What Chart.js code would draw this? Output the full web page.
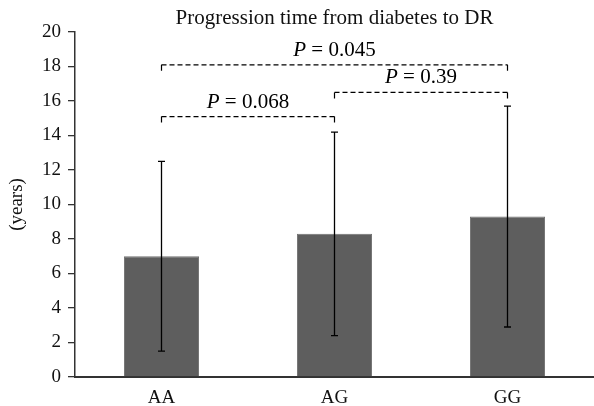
<!DOCTYPE html>
<html lang="en">
<head>
    <meta charset="UTF-8">
    <script src="https://cdn.jsdelivr.net/npm/chart.js"></script>
    <title>Progression time from diabetes to DR</title>
    <style>
        body { margin: 0; background: #fff; }
        #wrap { width: 594px; height: 406px; }
    </style>
</head>
<body>
<div id="wrap"><canvas id="dr"></canvas></div>

<script>
    const chartTitle = 'Progression time from diabetes to DR';
    const genotypes = ['AA', 'AG', 'GG'];
    const meanYears = [7.0, 8.3, 9.3];
    const errLow = [1.5, 2.4, 2.9];
    const errHigh = [12.5, 14.2, 15.7];

    // significance brackets: from index, to index, height, p value
    const bracketFrom = [0, 0, 1];
    const bracketTo = [1, 2, 2];
    const bracketY = [15.1, 18.1, 16.5];
    const bracketP = ['0.068', '0.045', '0.39'];

    const serif = '"Liberation Serif", "DejaVu Serif", serif';
    const fs = 19;
    const pfs = 21;

    const extras = {
        id: 'extras',
        afterDatasetsDraw(chart) {
            const c = chart.ctx;
            const x = chart.scales.x, y = chart.scales.y;
            const area = chart.chartArea;
            c.save();
            // title, centred over the plot area
            c.fillStyle = '#111';
            c.font = '21px ' + serif;
            c.textAlign = 'center';
            c.textBaseline = 'middle';
            c.fillText(chartTitle, (area.left + area.right) / 2, 18);

            c.strokeStyle = '#000';
            c.lineWidth = 1.3;
            // error bars
            genotypes.forEach((g, i) => {
                const px = x.getPixelForValue(i);
                const top = y.getPixelForValue(errHigh[i]);
                const bot = y.getPixelForValue(errLow[i]);
                c.beginPath();
                c.moveTo(px, top); c.lineTo(px, bot);
                c.moveTo(px - 3.5, top); c.lineTo(px + 3.5, top);
                c.moveTo(px - 3.5, bot); c.lineTo(px + 3.5, bot);
                c.stroke();
            });
            // brackets
            c.lineWidth = 1.2;
            c.fillStyle = '#000';
            c.textBaseline = 'alphabetic';
            bracketFrom.forEach((f, k) => {
                const x1 = x.getPixelForValue(f);
                const x2 = x.getPixelForValue(bracketTo[k]);
                const py = y.getPixelForValue(bracketY[k]);
                c.setLineDash([5, 3]);
                c.beginPath();
                c.moveTo(x1, py); c.lineTo(x2, py);
                c.stroke();
                c.setLineDash([]);
                c.beginPath();
                c.moveTo(x1, py); c.lineTo(x1, py + 6);
                c.moveTo(x2, py); c.lineTo(x2, py + 6);
                c.stroke();
                // label "P = value" with italic P
                const rest = ' = ' + bracketP[k];
                c.font = 'italic ' + pfs + 'px ' + serif;
                const wP = c.measureText('P').width;
                c.font = pfs + 'px ' + serif;
                const wR = c.measureText(rest).width;
                const start = (x1 + x2) / 2 - (wP + wR) / 2;
                const base = py - 9;
                c.textAlign = 'left';
                c.font = 'italic ' + pfs + 'px ' + serif;
                c.fillText('P', start, base);
                c.font = pfs + 'px ' + serif;
                c.fillText(rest, start + wP, base);
            });
            c.restore();
        }
    };

    new Chart(document.getElementById('dr'), {
        type: 'bar',
        data: {
            labels: genotypes,
            datasets: [{
                data: meanYears,
                backgroundColor: '#5e5e5e',
                borderColor: '#727272',
                borderWidth: 1,
                barPercentage: 0.434,
                categoryPercentage: 1
            }]
        },
        options: {
            responsive: true,
            maintainAspectRatio: false,
            animation: false,
            layout: { padding: { top: 32, right: 0, bottom: 0, left: 0 } },
            plugins: {
                legend: { display: false },
                tooltip: { enabled: false },
                title: { display: false }
            },
            scales: {
                x: {
                    afterFit: s => { s.height = 29; },
                    grid: { display: false, drawTicks: false },
                    border: { color: '#333', width: 2 },
                    ticks: { color: '#111', font: { family: serif, size: fs }, padding: 10 }
                },
                y: {
                    min: 0,
                    max: 20,
                    afterFit: s => { s.width = 75; },
                    grid: { drawOnChartArea: false, tickLength: 7, color: '#333', lineWidth: 1.3 },
                    border: { color: '#333', width: 1.5 },
                    ticks: { stepSize: 2, color: '#111', font: { family: serif, size: fs }, padding: 7 },
                    title: {
                        display: true,
                        text: '(years)',
                        color: '#111',
                        font: { family: serif, size: fs },
                        padding: { top: 6, bottom: 0 }
                    }
                }
            }
        },
        plugins: [extras]
    });
</script>
</body>
</html>
